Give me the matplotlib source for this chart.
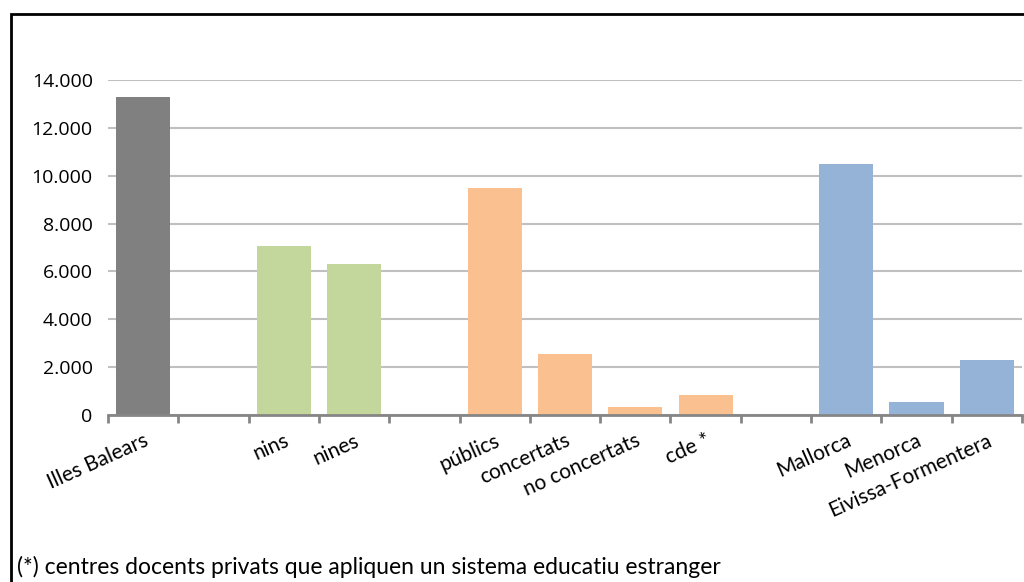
import matplotlib.pyplot as plt
import matplotlib.ticker as mticker
import numpy as np
from matplotlib.patches import Rectangle

# categories (empty strings are the gaps between groups)
labels = ['Illes Balears', '', 'nins', 'nines', '', 'públics', 'concertats',
          'no concertats', 'cde *', '', 'Mallorca', 'Menorca', 'Eivissa-Formentera']
values = [13300, np.nan, 7050, 6300, np.nan, 9470, 2550, 350, 850, np.nan,
          10500, 550, 2300]
colors = ['#808080', 'w', '#c3d69b', '#c3d69b', 'w', '#fac090', '#fac090',
          '#fac090', '#fac090', 'w', '#95b3d7', '#95b3d7', '#95b3d7']
yticks = [0, 2000, 4000, 6000, 8000, 10000, 12000, 14000]
note = '(*) centres docents privats que apliquen un sistema educatiu estranger'

fig = plt.figure(figsize=(10.24, 5.82), dpi=100)
ax = fig.add_axes([108/1024, 1 - 415/582, 914/1024, 335/582])

x = np.arange(len(labels))
ax.bar(x, values, width=0.77, color=colors, zorder=3)

ax.set_xlim(-0.5, len(labels) - 0.5)
ax.set_ylim(0, 14000)
ax.set_yticks(yticks)
ax.yaxis.set_major_formatter(mticker.FuncFormatter(
    lambda v, p: '{:,.0f}'.format(v).replace(',', '.')))
ax.grid(axis='y', color='#c0c0c0', linewidth=1.5, zorder=0)

for s in ['top', 'right', 'left']:
    ax.spines[s].set_visible(False)
ax.spines['bottom'].set_color('#868686')
ax.spines['bottom'].set_linewidth(2)
ax.spines['bottom'].set_zorder(4)

ax.tick_params(axis='y', length=0, pad=11, labelsize=14)
for t in ax.get_yticklabels():
    t.set_fontfamily('Open Sans')

ax.set_xticks(x)
ax.set_xticklabels(labels, rotation=24, ha='right', va='top',
                   rotation_mode='anchor', fontsize=15, fontfamily='Lato')
ax.tick_params(axis='x', which='major', length=0, pad=11)
ax.set_xticks(np.arange(len(labels) + 1) - 0.5, minor=True)
ax.tick_params(axis='x', which='minor', length=6, width=2, color='#868686')

fig.text(17/1024, 1 - 567/582, note, fontsize=16.5, fontfamily='Lato',
         va='center', ha='left')

# outer frame of the chart area
fig.patches.append(Rectangle((11/1024, -0.1), 1.2, 1 - 14/582 + 0.1,
                             transform=fig.transFigure, fill=False,
                             edgecolor='black', linewidth=2))

fig.savefig('out.png', dpi=100)
